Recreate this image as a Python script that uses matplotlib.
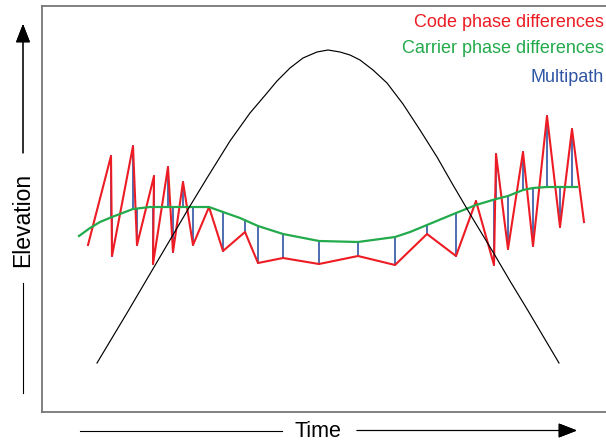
import numpy as np
import matplotlib
matplotlib.use("Agg")
import matplotlib.pyplot as plt
from matplotlib.lines import Line2D

plt.rcParams['font.family'] = ['Liberation Sans', 'DejaVu Sans']

W, H = 606, 443

# code phase differences (red zigzag): time, elevation
code_t = [88, 111, 112, 133, 137, 154, 153, 168, 173, 183, 193, 209, 223, 245, 258,
          283, 319, 358, 395, 427, 456, 476, 494, 496, 508, 523, 533, 547, 560, 572, 584]
code_e = [198, 287, 187, 297, 198, 267, 179, 276, 191, 261, 198, 236, 192, 211, 180,
          185, 179, 187, 178, 209, 187, 242, 178, 289, 194, 291, 197, 327, 216, 314, 221]

# carrier phase differences (green smooth curve)
carrier_t = [79, 90, 100, 112, 133, 150, 170, 190, 209, 223, 240, 258, 283, 319, 358,
             395, 410, 427, 456, 476, 496, 508, 523, 533, 547, 560, 577]
carrier_e = [207, 215, 221, 226, 234, 236, 236, 236, 236, 231, 225, 217, 209, 202, 201,
             206, 211, 218, 230, 238, 244, 247, 253, 255, 256, 256, 256]

# satellite elevation (black arc)
sat_t = [97, 127, 157, 190, 207, 230, 250, 267, 277, 290, 303, 317, 328, 340, 350,
         360, 373, 387, 403, 420, 437, 453, 473, 493, 510, 527, 559]
sat_e = [80, 130, 181, 237, 265, 302, 330, 350, 362, 375, 385, 391, 393, 391, 388,
         383, 373, 360, 339, 313, 286, 258, 224, 191, 162, 134, 80]

labels = ["Code phase differences", "Carrier phase differences", "Multipath"]

RED = "#ed1c24"
GREEN = "#22aa4b"
BLUE = "#2f55a4"


def fx(px):
    return px / W


def fy(py):
    return 1 - py / H


fig = plt.figure(figsize=(W / 100, H / 100), dpi=100)
ax = fig.add_axes([fx(42), fy(412), fx(606) - fx(42), fy(5.7) - fy(412)])
ax.set_xlim(42, 606)
ax.set_ylim(H - 412, H - 5.7)
ax.set_xticks([])
ax.set_yticks([])
for side in ["top", "left", "bottom"]:
    ax.spines[side].set_color("#777777")
    ax.spines[side].set_linewidth(1.3)
ax.spines["right"].set_visible(False)

# multipath: vertical bars between code and carrier at each code vertex
green_at = np.interp(code_t, carrier_t, carrier_e)
for t, e, g in zip(code_t[1:-1], code_e[1:-1], green_at[1:-1]):
    ax.plot([t, t], [e, g], color=BLUE, lw=1.2, zorder=1)

ax.plot(code_t, code_e, color=RED, lw=1.5, zorder=2)
ax.plot(carrier_t, carrier_e, color=GREEN, lw=1.6, zorder=3, solid_joinstyle="round")
ax.plot(sat_t, sat_e, color="black", lw=0.85, zorder=4, solid_joinstyle="round")

# legend-like labels, top right
for txt, col, yb in zip(labels, [RED, GREEN, BLUE], [27, 53, 82]):
    fig.text(fx(604), fy(yb), txt, color=col, fontsize=13, ha="right", va="baseline")

# axis labels with arrows
fig.text(fx(23), fy(220), "Elevation", rotation=90, fontsize=16.5, ha="center", va="center")
fig.text(fx(317.5), fy(437), "Time", fontsize=15.5, ha="center", va="baseline")

fig.add_artist(Line2D([fx(23), fx(23)], [fy(393), fy(283)], color="black", lw=0.8))
fig.add_artist(Line2D([fx(80), fx(282)], [fy(430.5), fy(430.5)], color="black", lw=0.8))

arrow = dict(arrowstyle="-|>,head_length=0.9,head_width=0.35", color="black", lw=0.8,
             shrinkA=0, shrinkB=0, mutation_scale=13)
fig.add_artist(plt.annotate("", xy=(fx(23), fy(24)), xytext=(fx(23), fy(153)),
                            xycoords="figure fraction", textcoords="figure fraction",
                            arrowprops=arrow))
fig.add_artist(plt.annotate("", xy=(fx(577), fy(430.5)), xytext=(fx(357), fy(430.5)),
                            xycoords="figure fraction", textcoords="figure fraction",
                            arrowprops=arrow))

fig.savefig("out.png", dpi=100)
